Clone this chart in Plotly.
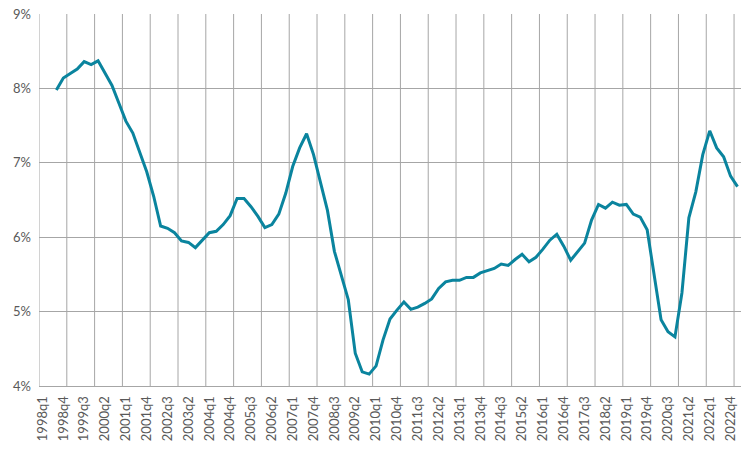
import plotly.graph_objects as go

years = list(range(1998, 2024))
quarters = [f"{y}q{q}" for y in years for q in range(1, 5)][:101]  # 1998q1 .. 2023q1

rate = [None, None,
        7.98, 8.14, 8.20, 8.26, 8.36, 8.32, 8.37, 8.21, 8.04, 7.80,
        7.56, 7.40, 7.13, 6.88, 6.55, 6.15, 6.12, 6.06, 5.95, 5.93,
        5.86, 5.96, 6.06, 6.08, 6.17, 6.29, 6.52, 6.52, 6.41, 6.28,
        6.13, 6.17, 6.31, 6.59, 6.95, 7.20, 7.39, 7.11, 6.73, 6.36,
        5.81, 5.47, 5.16, 4.44, 4.19, 4.16, 4.27, 4.62, 4.90, 5.02,
        5.13, 5.03, 5.06, 5.11, 5.17, 5.31, 5.40, 5.42, 5.42, 5.46,
        5.46, 5.52, 5.55, 5.58, 5.64, 5.62, 5.70, 5.77, 5.67, 5.73,
        5.84, 5.96, 6.04, 5.88, 5.69, 5.81, 5.92, 6.23, 6.44, 6.39,
        6.47, 6.43, 6.44, 6.31, 6.27, 6.10, 5.47, 4.89, 4.73, 4.66,
        5.25, 6.26, 6.61, 7.11, 7.43, 7.20, 7.08, 6.82, 6.68]

tick_labels = quarters[0:100:3]

grid = "#A6A6A6"
txt = "#595959"
font_family = "Lato, 'Open Sans', sans-serif"

fig = go.Figure()
fig.add_trace(go.Scatter(x=quarters, y=rate, mode="lines",
                         line=dict(color="#0A849E", width=3),
                         connectgaps=False, hoverinfo="skip"))

n = len(quarters)
shapes = []
for k in range(0, n, 4):
    shapes.append(dict(type="line", xref="x", yref="y", x0=k - 0.5, x1=k - 0.5,
                       y0=4, y1=9, line=dict(color=grid, width=1), layer="below"))

fig.update_layout(
    width=756, height=450,
    margin=dict(l=39, r=15, t=14, b=64),
    paper_bgcolor="white", plot_bgcolor="white",
    showlegend=False,
    shapes=shapes,
    font=dict(family=font_family, color=txt),
    xaxis=dict(type="category", categoryorder="array", categoryarray=quarters,
               range=[-0.5, n - 0.5], tickmode="array", tickvals=tick_labels,
               ticktext=tick_labels, tickangle=-90, showgrid=False,
               showline=True, linecolor=grid, linewidth=1, ticks="",
               ticklabelstandoff=4, automargin=False,
               tickfont=dict(size=13, color=txt), zeroline=False),
    yaxis=dict(range=[4, 9], dtick=1, tick0=4, ticksuffix="%",
               showgrid=True, gridcolor=grid, gridwidth=1, zeroline=False,
               ticks="", ticklabelstandoff=7, automargin=False,
               tickfont=dict(size=13, color=txt)),
)

fig.write_html("out.html")
